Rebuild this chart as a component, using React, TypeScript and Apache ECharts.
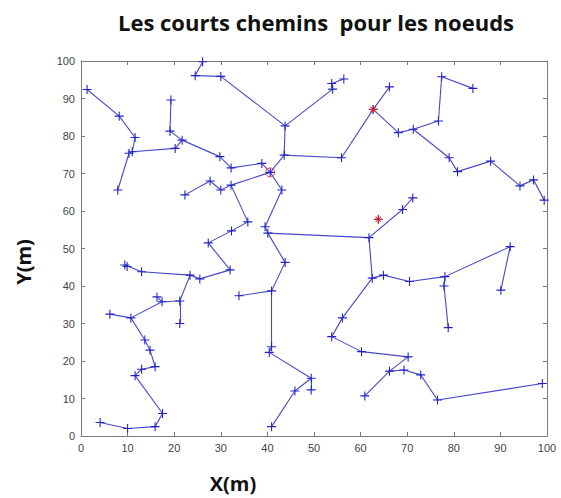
import React, { useEffect, useRef } from "react";
import * as echarts from "echarts";

const titleText = "Les courts chemins  pour les noeuds";
const xTicks = [0, 10, 20, 30, 40, 50, 60, 70, 80, 90, 100];

// node coordinates [x, y] in metres
const nodes: number[][] = [
  [40.6, 70.3], // 0 root (red circle)
  [1.3, 92.4], [8.2, 85.3], [11.6, 79.6], [11.0, 75.8], [10.3, 75.4], [7.9, 65.6],
  [20.2, 76.7], [21.7, 78.9], [19.1, 81.3], [19.3, 89.6], [29.8, 74.5], [32.2, 71.5], [38.8, 72.7],
  [26.1, 99.8], [24.5, 96.1], [30.0, 95.9], [43.8, 82.7], [54.0, 92.5], [53.8, 94.0], [56.4, 95.2],
  [43.6, 74.9], [55.9, 74.2], [62.7, 87.1], [66.2, 93.1], [68.1, 80.9], [71.3, 81.8], [76.7, 84.0],
  [77.4, 95.8], [84.1, 92.7], [79.0, 74.2], [80.8, 70.5], [87.9, 73.3], [94.2, 66.7], [97.1, 68.3],
  [99.4, 62.9],
  [22.3, 64.3], [27.7, 68.0], [30.0, 65.6], [32.2, 66.9], [35.8, 57.1], [32.3, 54.7], [27.3, 51.5],
  [32.0, 44.3], [25.5, 41.9], [23.4, 42.9], [13.0, 43.8], [9.4, 45.6], [9.9, 45.2], [21.2, 36.0],
  [21.2, 30.0], [17.4, 35.8], [16.3, 37.1], [10.7, 31.5], [6.2, 32.5], [13.7, 25.6], [14.8, 22.9],
  [15.9, 18.5], [13.0, 17.8], [11.6, 16.1], [17.5, 6.0], [15.9, 2.5], [10.0, 2.0], [4.1, 3.6],
  [43.1, 65.6], [39.5, 55.8], [40.1, 54.1], [43.8, 46.3], [40.9, 38.7], [33.9, 37.4], [40.9, 23.8],
  [40.4, 22.3], [49.4, 15.4], [49.4, 12.3], [45.9, 12.0], [40.9, 2.5],
  [61.8, 52.9], [63.8, 57.8], [69.0, 60.4], [71.2, 63.5], [62.5, 42.1], [64.9, 42.9], [70.5, 41.2],
  [78.1, 42.5], [92.1, 50.5], [90.1, 38.9], [77.9, 40.0], [78.8, 28.9], [56.1, 31.5], [53.8, 26.5],
  [60.2, 22.5], [70.2, 21.1], [66.2, 17.3], [60.9, 10.7], [69.3, 17.6], [72.9, 16.3], [76.5, 9.6],
  [99.0, 14.0],
];

// edges as pairs of node indices
const edges: number[][] = [
  [1, 2], [2, 3], [3, 4], [4, 5], [5, 6], [4, 7], [7, 8], [8, 9], [9, 10], [8, 11], [11, 12], [12, 13], [13, 0],
  [14, 15], [15, 16], [16, 17], [17, 18], [18, 19], [19, 20], [17, 21], [21, 0], [21, 22], [22, 23],
  [23, 24], [23, 25], [25, 26], [26, 27], [27, 28], [28, 29], [26, 30], [30, 31], [31, 32], [32, 33],
  [33, 34], [34, 35],
  [36, 37], [37, 38], [38, 39], [39, 0], [39, 40], [40, 41], [41, 42], [42, 43], [43, 44], [44, 45],
  [45, 46], [46, 47], [47, 48], [45, 49], [49, 50], [49, 51], [51, 52], [51, 53], [53, 54], [53, 55],
  [55, 56], [56, 57], [57, 58], [58, 59], [59, 60], [60, 61], [61, 62], [62, 63],
  [0, 64], [64, 65], [65, 66], [66, 67], [67, 68], [68, 69], [68, 70], [70, 71], [71, 72], [72, 73],
  [72, 74], [74, 75],
  [66, 76], [76, 78], [78, 79], [76, 80], [80, 81], [81, 82], [82, 83], [83, 84], [84, 85], [83, 86],
  [86, 87], [80, 88], [88, 89], [89, 90], [90, 91], [91, 92], [92, 93], [92, 94], [94, 95], [95, 96],
  [96, 97],
];

const rootIndex = [0];
const redStarIndex = [23, 77];

const PLUS = "path://M4.4,0h1.2v10h-1.2z M0,4.4h10v1.2h-10z";
const STAR = "path://M4.4,0h1.2v10h-1.2z M0,4.4h10v1.2h-10z M1.2,2.0l0.8,-0.8l6.8,6.8l-0.8,0.8z M8.8,2.0l-0.8,-0.8l-6.8,6.8l0.8,0.8z";

export default function App() {
  const ref = useRef<HTMLDivElement>(null);
  useEffect(() => {
    if (!ref.current) return;
    const chart = echarts.init(ref.current, undefined, { renderer: "svg" });
    const axisColor = "#7a7a7a";
    const labelStyle = { color: "#444", fontSize: 11, fontFamily: "Liberation Sans, Arial, sans-serif" };
    chart.setOption({
      animation: false,
      backgroundColor: "#ffffff",
      title: {
        text: titleText,
        left: 311,
        top: 6,
        textAlign: "center",
        textStyle: { fontFamily: "Open Sans", fontWeight: "bold", fontSize: 22, color: "#111" },
      },
      grid: { left: 81, right: 14, top: 61, bottom: 62 },
      xAxis: [
        {
          type: "value", min: 0, max: 100, interval: 10,
          axisLine: { show: true, onZero: false, lineStyle: { color: axisColor } },
          axisTick: { show: true, inside: true, length: 4, lineStyle: { color: axisColor } },
          axisLabel: { ...labelStyle, margin: 6, customValues: xTicks },
          splitLine: { show: false },
        },
        {
          type: "value", min: 0, max: 100, interval: 10, position: "top",
          axisLine: { show: true, onZero: false, lineStyle: { color: axisColor } },
          axisTick: { show: true, inside: true, length: 4, lineStyle: { color: axisColor } },
          axisLabel: { show: false },
          splitLine: { show: false },
        },
      ],
      yAxis: [
        {
          type: "value", min: 0, max: 100, interval: 10,
          axisLine: { show: true, onZero: false, lineStyle: { color: axisColor } },
          axisTick: { show: true, inside: true, length: 4, lineStyle: { color: axisColor } },
          axisLabel: { ...labelStyle, margin: 6 },
          splitLine: { show: false },
        },
        {
          type: "value", min: 0, max: 100, interval: 10, position: "right",
          axisLine: { show: true, onZero: false, lineStyle: { color: axisColor } },
          axisTick: { show: true, inside: true, length: 4, lineStyle: { color: axisColor } },
          axisLabel: { show: false },
          splitLine: { show: false },
        },
      ],
      graphic: [
        {
          type: "text", x: 233, y: 483,
          style: { text: "X(m)", fontFamily: "Open Sans", fontWeight: "bold", fontSize: 20, fill: "#111", align: "center", verticalAlign: "middle" },
        },
        {
          type: "text", x: 23, y: 262, rotation: Math.PI / 2,
          style: { text: "Y(m)", fontFamily: "Open Sans", fontWeight: "bold", fontSize: 20, fill: "#111", align: "center", verticalAlign: "middle" },
        },
      ],
      series: [
        {
          type: "lines",
          coordinateSystem: "cartesian2d",
          xAxisIndex: 0, yAxisIndex: 0,
          lineStyle: { color: "#4848c8", width: 1.1, opacity: 1 },
          data: edges.map(([a, b]) => ({ coords: [nodes[a], nodes[b]] })),
          z: 2,
        },
        {
          type: "scatter",
          xAxisIndex: 0, yAxisIndex: 0,
          symbol: PLUS,
          symbolSize: 9,
          itemStyle: { color: "#2222c4", opacity: 1 },
          data: nodes,
          z: 3,
        },
        {
          type: "scatter",
          xAxisIndex: 0, yAxisIndex: 0,
          symbol: "circle",
          symbolSize: 9,
          itemStyle: { color: "transparent", borderColor: "#e03030", borderWidth: 1 },
          data: rootIndex.map((i) => nodes[i]),
          z: 4,
        },
        {
          type: "scatter",
          xAxisIndex: 0, yAxisIndex: 0,
          symbol: STAR,
          symbolSize: 8,
          itemStyle: { color: "#e02020", opacity: 1 },
          data: redStarIndex.map((i) => nodes[i]),
          z: 5,
        },
      ],
    });
    return () => chart.dispose();
  }, []);
  return <div ref={ref} style={{ position: "fixed", left: 0, top: 0, width: 561, height: 498 }} />;
}
